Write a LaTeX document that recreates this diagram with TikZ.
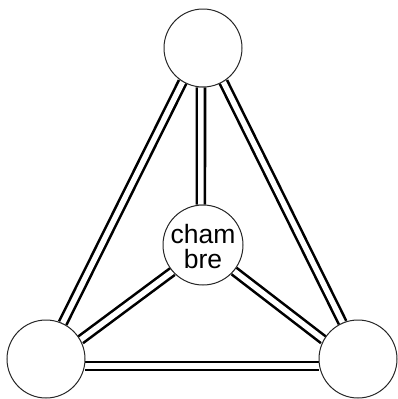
\documentclass[tikz,border=0pt]{standalone}
\usepackage{fontspec}
\setmainfont{Liberation Sans}
\usetikzlibrary{backgrounds}
\tikzset{
  ball/.style={circle, draw=black!85, line width=1pt, fill=white, minimum size=78pt, inner sep=0pt},
  link/.style={draw=black, line width=2.6pt, double=white, double distance=5.5pt},
}
\begin{document}
\begin{tikzpicture}[x=1pt,y=-1pt]
\useasboundingbox (0,0) rectangle (398,399);
\node[ball] (T) at (203,48) {};
\node[ball] (L) at (46,359) {};
\node[ball] (R) at (358,359) {};
\node[ball, minimum size=80pt, align=center, font=\fontsize{26.5}{25}\selectfont, text depth=0pt] (C) at (203,245) {\raisebox{-2pt}{cham}\\\raisebox{-2pt}{bre}};
\begin{scope}[on background layer]
  \draw[link] (T.239) -- (L.65);
  \draw[link] (T.301) -- (R.113);
  \draw[link] (L.-10) -- (R.190);
  \draw[link] (T.267) -- (C.93);
  \draw[link] (C.221) -- (L.29);
  \draw[link] (C.320) -- (R.151);
\end{scope}
\end{tikzpicture}
\end{document}
